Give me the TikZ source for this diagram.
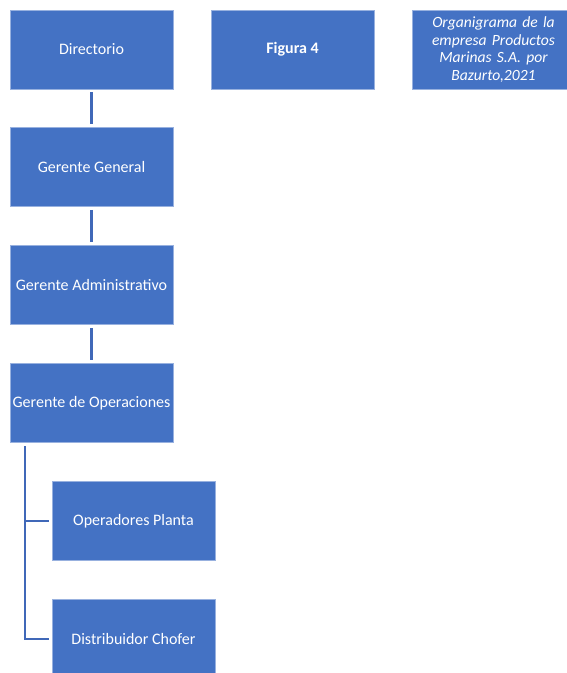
\documentclass[tikz,border=0pt]{standalone}
\usepackage{fontspec}
\setmainfont{Carlito}
\frenchspacing
\definecolor{boxblue}{HTML}{4472C4}
\definecolor{linkblue}{HTML}{4068B8}
\begin{document}
\begin{tikzpicture}[x=1pt,y=-1pt,
  orgbox/.style={rectangle, fill=boxblue, draw=boxblue!55!white, line width=0.6pt,
    minimum width=163pt, minimum height=79pt, inner sep=2pt, text=white,
    font=\fontsize{16}{19}\selectfont, align=center},
  link/.style={draw=linkblue, line width=2.6pt}]
\useasboundingbox (0,0) rectangle (567,673);
\node[orgbox] (dir) at (91.5,49.5) {Directorio};
\node[orgbox, font=\fontsize{16}{19}\selectfont\bfseries] (fig) at (292.5,49.5) {Figura 4};
\node[orgbox, font=\fontsize{15.6}{17.5}\selectfont\itshape, text width=155pt] (cap) at (493.5,49.5) {Organigrama de la\\empresa Productos\\Marinas S.A. por\\Bazurto,2021};
\node[orgbox] (gg) at (91.5,167) {Gerente General};
\node[orgbox] (ga) at (91.5,285) {Gerente Administrativo};
\node[orgbox] (go) at (91.5,403) {Gerente de Operaciones};
\node[orgbox] (op) at (133.5,521) {Operadores Planta};
\node[orgbox] (dc) at (133.5,639) {Distribuidor Chofer};
\draw[link, shorten <=3pt, shorten >=3pt] (dir.south) -- (gg.north);
\draw[link, shorten <=3pt, shorten >=3pt] (gg.south) -- (ga.north);
\draw[link, shorten <=3pt, shorten >=3pt] (ga.south) -- (go.north);
\coordinate (trunk) at (25,446);
\draw[link] (trunk) |- ([xshift=-3pt]op.west);
\draw[link] (trunk) |- ([xshift=-3pt]dc.west);
\end{tikzpicture}
\end{document}
